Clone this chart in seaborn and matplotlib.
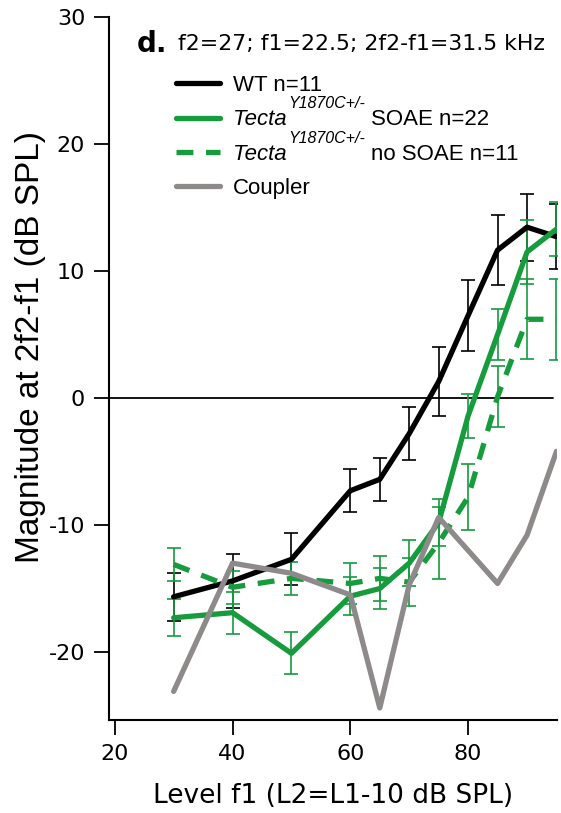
import numpy as np
import pandas as pd
import matplotlib
matplotlib.use("Agg")
import matplotlib.pyplot as plt
from matplotlib import font_manager
from matplotlib.transforms import IdentityTransform
import seaborn as sns

# ---- data ----
levels = [30, 40, 50, 60, 65, 70, 75, 80, 85, 90, 95]
wt_mean = [-15.65, -14.4, -12.7, -7.3, -6.4, -2.8, 1.3, 6.5, 11.65, 13.45, 12.7]
wt_err = [1.9, 2.1, 2.05, 1.7, 1.7, 2.1, 2.75, 2.8, 2.75, 2.65, 2.55]
soae_mean = [-17.3, -16.9, -20.1, -15.6, -15.0, -13.0, -9.8, -1.4, 5.0, 11.5, 13.3]
soae_err = [1.45, 1.65, 1.65, 1.5, 1.65, 1.8, 1.85, 1.75, 2.0, 2.5, 2.1]
nosoae_mean = [-13.1, -14.9, -14.2, -14.6, -14.2, -14.5, -11.4, -7.8, 0.1, 6.2, 6.2]
nosoae_err = [1.3, 1.3, 1.3, 1.6, 1.8, 1.9, 2.85, 2.6, 2.4, 3.15, 3.2]
coupler = [-23.1, -13.0, -13.8, -15.5, -24.4, -14.7, -9.4, -12.0, -14.6, -10.8, -4.2]

series = ["WT n=11", "Tecta SOAE n=22", "Tecta no SOAE n=11", "Coupler"]
legend_main = ["WT n=11", "Tecta", "Tecta", "Coupler"]
legend_sup = ["", "Y1870C+/-", "Y1870C+/-", ""]
legend_rest = ["", "SOAE n=22", "no SOAE n=11", ""]
xticks = [20, 40, 60, 80]
yticks = [-20, -10, 0, 10, 20, 30]

GREEN = "#169b3d"
GRAY = "#8d8a89"

sns.set_style("ticks")
plt.rcParams["font.family"] = ["DejaVu Sans"]
plt.rcParams["axes.unicode_minus"] = False
plt.rcParams["text.color"] = "black"
plt.rcParams["xtick.color"] = "black"
plt.rcParams["ytick.color"] = "black"
plt.rcParams["axes.labelcolor"] = "black"
plt.rcParams["axes.edgecolor"] = "black"


def pick_font(cands):
    for c in cands:
        try:
            font_manager.findfont(font_manager.FontProperties(family=c),
                                  fallback_to_default=False)
            return c
        except Exception:
            pass
    return "DejaVu Sans"


helv = pick_font(["Liberation Sans", "Arimo", "DejaVu Sans"])

fig = plt.figure(figsize=(5.61, 8.13), dpi=100)
ax = fig.add_axes([0.194, 0.1144, 0.799, 0.8647])

ax.axhline(0, xmax=0.99, color="black", lw=1.3, zorder=1)

df = pd.DataFrame({
    "level": levels * 4,
    "value": wt_mean + soae_mean + nosoae_mean + coupler,
    "series": [series[0]] * 11 + [series[1]] * 11 + [series[2]] * 11 + [series[3]] * 11,
})

palette = {series[0]: "black", series[1]: GREEN, series[2]: GREEN, series[3]: GRAY}
dashes = {series[0]: "", series[1]: "", series[2]: (3.2, 2.4), series[3]: ""}

sns.lineplot(data=df, x="level", y="value", hue="series", style="series",
             palette=palette, dashes=dashes, linewidth=3.8, ax=ax,
             hue_order=series, style_order=series, zorder=3)

eb_kw = dict(fmt="none", elinewidth=1.2, capsize=5, capthick=1.2, zorder=2)
ax.errorbar(levels, wt_mean, yerr=wt_err, ecolor="black", **eb_kw)
ax.errorbar(levels, soae_mean, yerr=soae_err, ecolor=GREEN, **eb_kw)
ax.errorbar(levels, nosoae_mean, yerr=nosoae_err, ecolor=GREEN, **eb_kw)

ax.set_xlim(19, 95.1)
ax.set_ylim(-25.35, 30)
ax.set_xticks(xticks)
ax.set_yticks(yticks)
ax.tick_params(axis="both", direction="out", length=11, width=1.3,
               labelsize=16, pad=6)
for s in ["top", "right"]:
    ax.spines[s].set_visible(False)
for s in ["left", "bottom"]:
    ax.spines[s].set_linewidth(1.5)

ax.set_xlabel("Level f1 (L2=L1-10 dB SPL)", fontsize=19, labelpad=14)
ax.set_ylabel("Magnitude at 2f2-f1 (dB SPL)",
              fontsize=24, family=[helv, "DejaVu Sans"])
ax.yaxis.set_label_coords(-0.14, 0.53)

ax.text(0.062, 0.962, "d.", transform=ax.transAxes, fontsize=20,
        fontweight="bold", va="center", ha="left")
ax.text(0.155, 0.962, "f2=27; f1=22.5; 2f2-f1=31.5 kHz", transform=ax.transAxes,
        fontsize=15.8, va="center", ha="left")

handles, _ = ax.get_legend_handles_labels()
leg = ax.legend(handles, legend_main, loc="upper left",
                bbox_to_anchor=(0.13, 0.93), frameon=False,
                prop={"family": helv, "size": 16}, handlelength=2.0,
                handletextpad=0.55, labelspacing=0.6, borderaxespad=0)
for i, t in enumerate(leg.get_texts()):
    if legend_sup[i]:
        t.set_fontstyle("italic")

fig.canvas.draw()
renderer = fig.canvas.get_renderer()
for i, t in enumerate(leg.get_texts()):
    if not legend_sup[i]:
        continue
    bb = t.get_window_extent(renderer)
    bx, by = t.get_transform().transform((0, 0))
    sup = fig.text(bb.x1 + 2, by + 17, legend_sup[i], transform=IdentityTransform(),
                   family=helv, fontsize=11.5, fontstyle="italic",
                   ha="left", va="baseline")
    sbb = sup.get_window_extent(renderer)
    fig.text(sbb.x1 + 6, by, legend_rest[i], transform=IdentityTransform(),
             family=helv, fontsize=16, ha="left", va="baseline")

fig.savefig("out.png", dpi=100)
